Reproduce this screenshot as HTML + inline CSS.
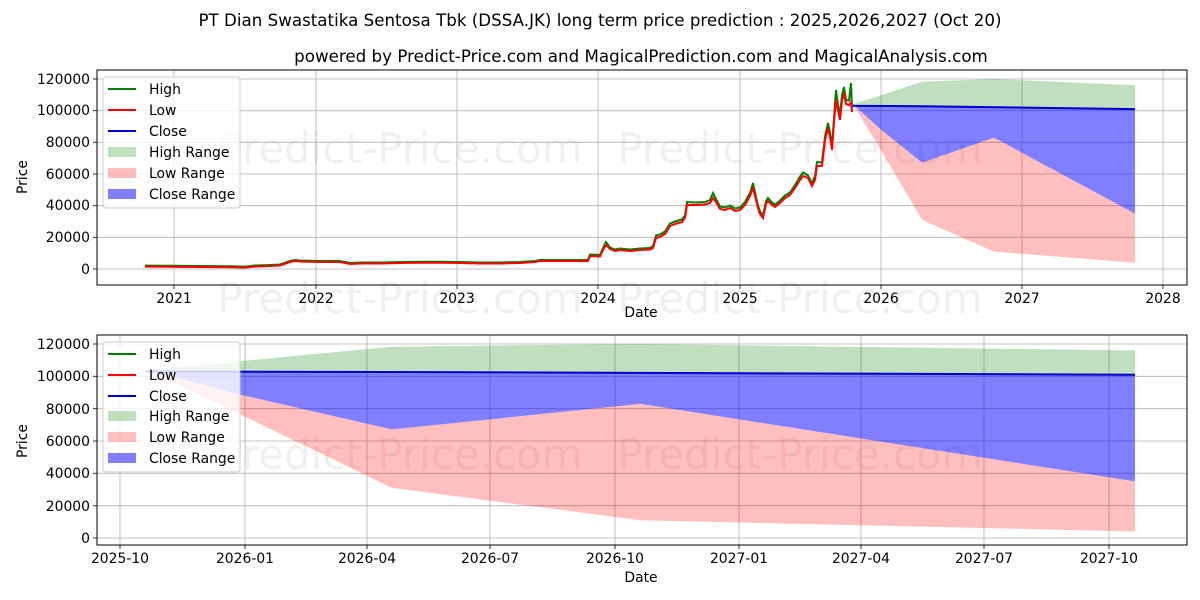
<!DOCTYPE html>
<html><head><meta charset="utf-8"><style>
body{margin:0;background:#fff;}
svg{display:block;font-family:"DejaVu Sans","Liberation Sans",sans-serif;}
</style></head><body>
<svg width="1200" height="600" viewBox="0 0 1200 600" xmlns="http://www.w3.org/2000/svg">
<rect width="1200" height="600" fill="#fff"/>
<text x="600" y="26" font-size="16.7" text-anchor="middle">PT Dian Swastatika Sentosa Tbk (DSSA.JK) long term price prediction : 2025,2026,2027 (Oct 20)</text>
<text x="641" y="62" font-size="16.7" text-anchor="middle">powered by Predict-Price.com and MagicalPrediction.com and MagicalAnalysis.com</text>

<g font-size="42" fill="#000" fill-opacity="0.06" text-anchor="middle">
<text x="400" y="163">Predict-Price.com</text>
<text x="800" y="163">Predict-Price.com</text>
<text x="400" y="313">Predict-Price.com</text>
<text x="800" y="313">Predict-Price.com</text>
<text x="400" y="469">Predict-Price.com</text>
<text x="800" y="469">Predict-Price.com</text>
</g>

<!-- TOP CHART -->
<g stroke="#b0b0b0" stroke-width="0.8">
<line x1="97" x2="1187" y1="269" y2="269"/><line x1="97" x2="1187" y1="237.3" y2="237.3"/>
<line x1="97" x2="1187" y1="205.7" y2="205.7"/><line x1="97" x2="1187" y1="174" y2="174"/>
<line x1="97" x2="1187" y1="142.3" y2="142.3"/><line x1="97" x2="1187" y1="110.7" y2="110.7"/>
<line x1="97" x2="1187" y1="79" y2="79"/>
<line x1="174" x2="174" y1="70" y2="285"/><line x1="316" x2="316" y1="70" y2="285"/>
<line x1="457" x2="457" y1="70" y2="285"/><line x1="598" x2="598" y1="70" y2="285"/>
<line x1="740" x2="740" y1="70" y2="285"/><line x1="881" x2="881" y1="70" y2="285"/>
<line x1="1022" x2="1022" y1="70" y2="285"/><line x1="1163" x2="1163" y1="70" y2="285"/>
</g>
<polygon points="853,104.3 881,95.3 922,81.7 994,79 1135,85.3 1135,109.1 853,105.9" fill="#008000" fill-opacity="0.25"/>
<polygon points="853,104.3 881,129.7 922,162.6 994,137.6 1135,213.6 1135,262.7 994,251.6 922,219.9 881,150.3" fill="#ff0000" fill-opacity="0.25"/>
<polygon points="853,105.9 1135,109.1 1135,213.6 994,137.6 922,162.6 881,129.7 853,104.3" fill="#0000ff" fill-opacity="0.5"/>
<polyline fill="none" stroke="#008000" stroke-width="2" points="145,265.6 170,265.8 200,266 230,266.3 245,266.6 255,265.5 270,265 280,264.5 290,261 295,260 300,260.5 320,261 340,261 350,263 360,262.5 380,262.5 400,262 420,261.7 440,261.7 460,262 480,262.5 500,262.5 520,262 535,261 540,260 560,260 588,260 590,254.5 600,255 603,248 606,242 610,247.5 615,249.5 620,248.5 630,249.5 640,248.5 650,248 653,246 656,235.5 660,234.5 665,231.5 670,223.5 675,221.5 682,219.5 685,215.5 687,202 695,202.5 705,202 710,200 713,193 716,199 720,206.5 725,207.5 730,205.5 735,208.5 740,207.5 745,202 750,193 753,183 756,197 758,205.5 760,211.5 763,215.5 766,201 768,198 772,202.5 775,204.5 780,200.5 785,195.5 790,192.5 795,185 800,176.5 803,172.5 808,175.5 812,183.5 815,176 817,162 822,162.5 825,136.5 828,123 830,133 832,146.5 834,118 836,90 838,105 840,115 842,95 844,87 846,100 849,100.5 851,83 852,108"/>
<polyline fill="none" stroke="#ff0000" stroke-width="2" points="145,266.6 170,266.8 200,267 230,267.3 245,267.6 255,266.5 270,266 280,265.5 290,262 295,261 300,261.5 320,262 340,262 350,264 360,263.5 380,263.5 400,263 420,262.7 440,262.7 460,263 480,263.5 500,263.5 520,263 535,262 540,261 560,261 588,261 590,256 600,256.5 603,250 606,245 610,249 615,251 620,250 630,251 640,250 650,249.5 653,248 656,238 660,237 665,234 670,226 675,224 682,222 685,218 687,205 695,205 705,204.5 710,203 713,198 716,202 720,209 725,210 730,208 735,211 740,210 745,205 750,196 753,188 756,200 758,208 760,214 763,218 766,204 768,201 772,205 775,207 780,203 785,198 790,195 795,188 800,180 803,176 808,178 812,186 815,180 817,166 822,166 825,140 828,128 830,137 832,150 834,122 836,100 838,110 840,120 842,100 844,94 846,104 849,105 851,102 852,112"/>
<polyline fill="none" stroke="#0000cc" stroke-width="2" points="853,105.9 922,106.2 1135,109.1"/>
<rect x="97" y="70" width="1090" height="215" fill="none" stroke="#000" stroke-width="1"/>
<g stroke="#000" stroke-width="0.8">
<line x1="93" x2="97" y1="269" y2="269"/><line x1="93" x2="97" y1="237.3" y2="237.3"/><line x1="93" x2="97" y1="205.7" y2="205.7"/><line x1="93" x2="97" y1="174" y2="174"/><line x1="93" x2="97" y1="142.3" y2="142.3"/><line x1="93" x2="97" y1="110.7" y2="110.7"/><line x1="93" x2="97" y1="79" y2="79"/>
<line x1="174" x2="174" y1="285" y2="289"/><line x1="316" x2="316" y1="285" y2="289"/><line x1="457" x2="457" y1="285" y2="289"/><line x1="598" x2="598" y1="285" y2="289"/><line x1="740" x2="740" y1="285" y2="289"/><line x1="881" x2="881" y1="285" y2="289"/><line x1="1022" x2="1022" y1="285" y2="289"/><line x1="1163" x2="1163" y1="285" y2="289"/>
</g>
<g font-size="13.9" text-anchor="end">
<text x="90" y="274">0</text><text x="90" y="242">20000</text><text x="90" y="210">40000</text><text x="90" y="179">60000</text><text x="90" y="147">80000</text><text x="90" y="115">100000</text><text x="90" y="84">120000</text>
</g>
<g font-size="13.9" text-anchor="middle">
<text x="174" y="303">2021</text><text x="316" y="303">2022</text><text x="457" y="303">2023</text><text x="598" y="303">2024</text><text x="740" y="303">2025</text><text x="881" y="303">2026</text><text x="1022" y="303">2027</text><text x="1163" y="303">2028</text>
<text x="641" y="317">Date</text>
</g>
<text x="27" y="177" font-size="13.9" text-anchor="middle" transform="rotate(-90 27 177)">Price</text>
<rect x="103" y="77" width="137" height="131" rx="3" fill="#fff" fill-opacity="0.8" stroke="#ccc"/>
<g font-size="13.9">
<line x1="108" x2="136" y1="89" y2="89" stroke="#008000" stroke-width="2"/><text x="149" y="94">High</text>
<line x1="108" x2="136" y1="110" y2="110" stroke="#ff0000" stroke-width="2"/><text x="149" y="115">Low</text>
<line x1="108" x2="136" y1="131" y2="131" stroke="#0000cc" stroke-width="2"/><text x="149" y="136">Close</text>
<rect x="108" y="147" width="28" height="10" fill="#008000" fill-opacity="0.25"/><text x="149" y="157">High Range</text>
<rect x="108" y="168" width="28" height="10" fill="#ff0000" fill-opacity="0.25"/><text x="149" y="178">Low Range</text>
<rect x="108" y="189" width="28" height="10" fill="#0000ff" fill-opacity="0.5"/><text x="149" y="199">Close Range</text>
</g>

<!-- BOTTOM CHART -->
<g stroke="#b0b0b0" stroke-width="0.8">
<line x1="97" x2="1187" y1="538" y2="538"/><line x1="97" x2="1187" y1="505.7" y2="505.7"/>
<line x1="97" x2="1187" y1="473.3" y2="473.3"/><line x1="97" x2="1187" y1="441" y2="441"/>
<line x1="97" x2="1187" y1="408.7" y2="408.7"/><line x1="97" x2="1187" y1="376.3" y2="376.3"/>
<line x1="97" x2="1187" y1="344" y2="344"/>
<line x1="120" x2="120" y1="335" y2="545"/><line x1="245" x2="245" y1="335" y2="545"/>
<line x1="367" x2="367" y1="335" y2="545"/><line x1="490" x2="490" y1="335" y2="545"/>
<line x1="615" x2="615" y1="335" y2="545"/><line x1="739" x2="739" y1="335" y2="545"/>
<line x1="861" x2="861" y1="335" y2="545"/><line x1="984" x2="984" y1="335" y2="545"/>
<line x1="1109" x2="1109" y1="335" y2="545"/>
</g>
<polygon points="146,369.9 245,360.7 392,346.7 640,344 1135,350.5 1135,374.7 146,371.5" fill="#008000" fill-opacity="0.25"/>
<polygon points="146,369.9 245,395.7 392,429.4 640,403.8 1135,481.4 1135,531.5 640,520.2 392,487.9 245,416.7" fill="#ff0000" fill-opacity="0.25"/>
<polygon points="146,371.5 1135,374.7 1135,481.4 640,403.8 392,429.4 245,395.7 146,369.9" fill="#0000ff" fill-opacity="0.5"/>
<polyline fill="none" stroke="#0000cc" stroke-width="2" points="146,371.5 392,372 1135,374.7"/>
<rect x="97" y="335" width="1090" height="210" fill="none" stroke="#000" stroke-width="1"/>
<g stroke="#000" stroke-width="0.8">
<line x1="93" x2="97" y1="538" y2="538"/><line x1="93" x2="97" y1="505.7" y2="505.7"/><line x1="93" x2="97" y1="473.3" y2="473.3"/><line x1="93" x2="97" y1="441" y2="441"/><line x1="93" x2="97" y1="408.7" y2="408.7"/><line x1="93" x2="97" y1="376.3" y2="376.3"/><line x1="93" x2="97" y1="344" y2="344"/>
<line x1="120" x2="120" y1="545" y2="549"/><line x1="245" x2="245" y1="545" y2="549"/><line x1="367" x2="367" y1="545" y2="549"/><line x1="490" x2="490" y1="545" y2="549"/><line x1="615" x2="615" y1="545" y2="549"/><line x1="739" x2="739" y1="545" y2="549"/><line x1="861" x2="861" y1="545" y2="549"/><line x1="984" x2="984" y1="545" y2="549"/><line x1="1109" x2="1109" y1="545" y2="549"/>
</g>
<g font-size="13.9" text-anchor="end">
<text x="90" y="543">0</text><text x="90" y="511">20000</text><text x="90" y="478">40000</text><text x="90" y="446">60000</text><text x="90" y="414">80000</text><text x="90" y="381">100000</text><text x="90" y="349">120000</text>
</g>
<g font-size="13.9" text-anchor="middle">
<text x="120" y="563">2025-10</text><text x="245" y="563">2026-01</text><text x="367" y="563">2026-04</text><text x="490" y="563">2026-07</text><text x="615" y="563">2026-10</text><text x="739" y="563">2027-01</text><text x="861" y="563">2027-04</text><text x="984" y="563">2027-07</text><text x="1109" y="563">2027-10</text>
<text x="641" y="582">Date</text>
</g>
<text x="27" y="441" font-size="13.9" text-anchor="middle" transform="rotate(-90 27 441)">Price</text>
<rect x="103" y="342" width="137" height="130" rx="3" fill="#fff" fill-opacity="0.8" stroke="#ccc"/>
<g font-size="13.9">
<line x1="108" x2="136" y1="354" y2="354" stroke="#008000" stroke-width="2"/><text x="149" y="359">High</text>
<line x1="108" x2="136" y1="375" y2="375" stroke="#ff0000" stroke-width="2"/><text x="149" y="380">Low</text>
<line x1="108" x2="136" y1="396" y2="396" stroke="#0000cc" stroke-width="2"/><text x="149" y="401">Close</text>
<rect x="108" y="411" width="28" height="10" fill="#008000" fill-opacity="0.25"/><text x="149" y="421">High Range</text>
<rect x="108" y="432" width="28" height="10" fill="#ff0000" fill-opacity="0.25"/><text x="149" y="442">Low Range</text>
<rect x="108" y="453" width="28" height="10" fill="#0000ff" fill-opacity="0.5"/><text x="149" y="463">Close Range</text>
</g>
</svg>
</body></html>
